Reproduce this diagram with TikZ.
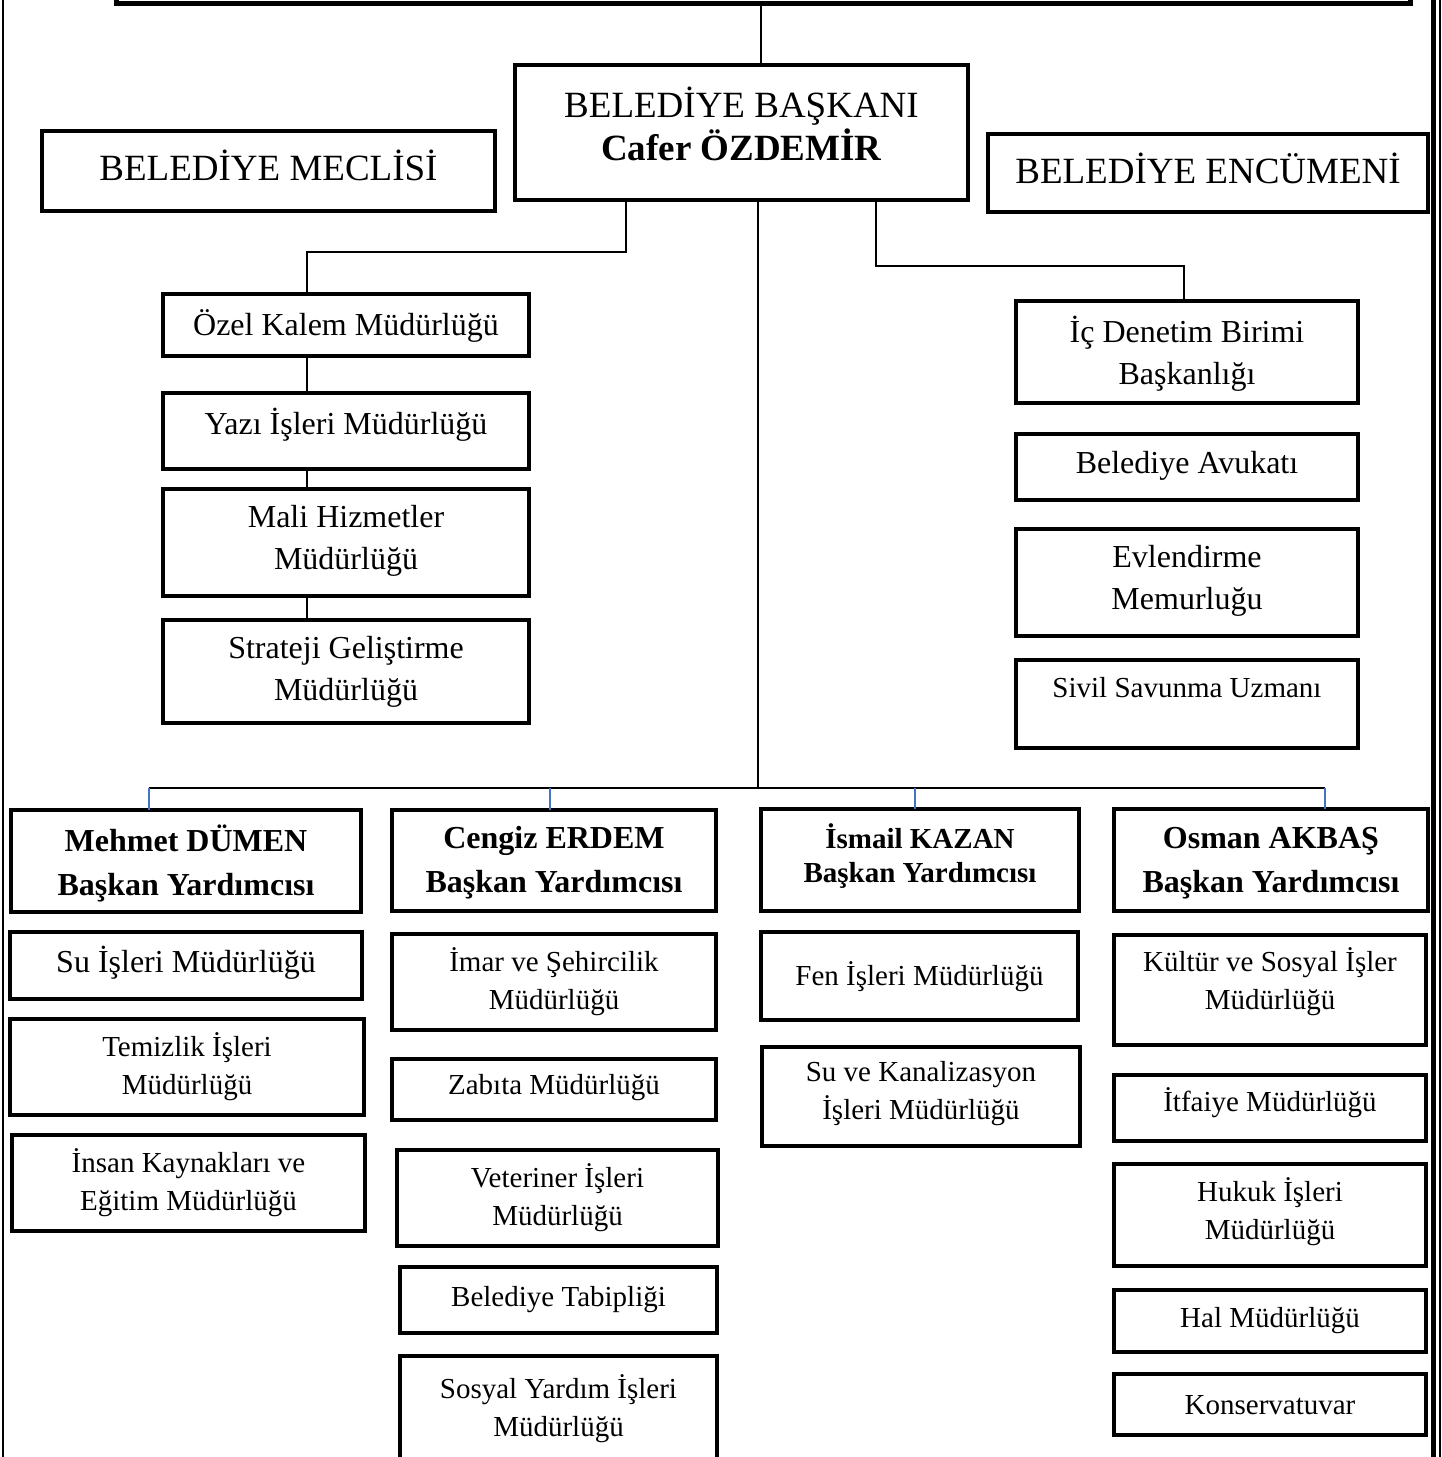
\documentclass[tikz,border=0pt]{standalone}
\usepackage{fontspec}
\setmainfont{Liberation Serif}
\definecolor{dropblue}{HTML}{4472C4}
\tikzset{
  boxst/.style={draw=black, line width=4.5pt, fill=white, inner sep=0pt, outer sep=0pt},
  txt/.style={inner sep=0pt, align=center},
  big/.style={font=\fontsize{37}{43}\selectfont},
  mid/.style={font=\fontsize{32}{42}\selectfont},
  sml/.style={font=\fontsize{29}{38}\selectfont},
  vpb/.style={font=\fontsize{32}{44}\selectfont\bfseries},
  vps/.style={font=\fontsize{29}{34}\selectfont\bfseries},
  conn/.style={draw=black, line width=1.5pt},
  drop/.style={draw=dropblue, line width=1.5pt},
  frameline/.style={draw=black, line width=2pt}
}
% name, x1, y1, x2, y2, text y, text style, text
\newcommand\obox[8]{%
  \node[boxst, minimum width={#4-#2}, minimum height={#5-#3}] (#1) at ({(#2+#4)/2},{-(#3+#5)/2}) {};
  \node[txt, #7] (#1-t) at ({(#2+#4)/2},{-#6}) {#8};
}
\begin{document}
\begin{tikzpicture}[x=1pt,y=1pt]
\useasboundingbox (0,0) rectangle (1442,-1457);
\clip (0,0) rectangle (1442,-1457);
\fill[white] (0,0) rectangle (1442,-1457);

% frame
\coordinate (fl1) at (2.5,0); \coordinate (fl2) at (2.5,-1457);
\coordinate (fr1) at (1433,0); \coordinate (fr2) at (1433,-1457);
\coordinate (fs1) at (1440,0); \coordinate (fs2) at (1440,-1457);
\draw[frameline] (fl1) -- (fl2);
\draw[draw=black, line width=5pt] (fr1) -- (fr2);
\draw[draw=black, line width=1.5pt] (fs1) -- (fs2);

% top box (cut off)
\node[boxst, line width=5pt, minimum width=1294, minimum height=63] (top) at (763,{-(-60+3)/2}) {};

% head row
\obox{bk}{515}{65}{968}{200}{123.5}{big}{BELEDİYE BAŞKANI\\\textbf{Cafer ÖZDEMİR}}
\obox{mec}{42}{131}{495}{211}{165}{big}{BELEDİYE MECLİSİ}
\obox{enc}{988}{134}{1428}{212}{168}{big}{BELEDİYE ENCÜMENİ}

% left column
\obox{ozel}{163}{294}{529}{356}{326}{mid}{Özel Kalem Müdürlüğü}
\obox{yazi}{163}{393}{529}{469}{425}{mid}{Yazı İşleri Müdürlüğü}
\obox{mali}{163}{489}{529}{596}{541}{mid}{Mali Hizmetler\\Müdürlüğü}
\obox{strat}{163}{620}{529}{723}{672}{mid}{Strateji Geliştirme\\Müdürlüğü}

% right column
\obox{ic}{1016}{301}{1358}{403}{354}{mid}{İç Denetim Birimi\\Başkanlığı}
\obox{avuk}{1016}{434}{1358}{500}{466}{mid}{Belediye Avukatı}
\obox{evl}{1016}{529}{1358}{636}{581}{mid}{Evlendirme\\Memurluğu}
\obox{sivil}{1016}{660}{1358}{748}{688}{sml}{Sivil Savunma Uzmanı}

% deputy mayors
\obox{vp1}{11}{810}{361}{912}{863}{vpb}{Mehmet DÜMEN\\Başkan Yardımcısı}
\obox{vp2}{392}{810}{716}{911}{863}{vpb}{Cengiz ERDEM\\Başkan Yardımcısı}
\obox{vp3}{761}{809}{1079}{911}{856}{vps}{İsmail KAZAN\\Başkan Yardımcısı}
\obox{vp4}{1114}{809}{1428}{911}{863}{vpb}{Osman AKBAŞ\\Başkan Yardımcısı}

% column 1
\obox{su}{10}{932}{362}{999}{963}{mid}{Su İşleri Müdürlüğü}
\obox{tem}{10}{1019}{364}{1115}{1067}{sml}{Temizlik İşleri\\Müdürlüğü}
\obox{ins}{12}{1135}{365}{1231}{1183}{sml}{İnsan Kaynakları ve\\Eğitim Müdürlüğü}

% column 2
\obox{imar}{392}{934}{716}{1030}{982}{sml}{İmar ve Şehircilik\\Müdürlüğü}
\obox{zab}{392}{1059}{716}{1120}{1088}{sml}{Zabıta Müdürlüğü}
\obox{vet}{397}{1150}{718}{1246}{1198}{sml}{Veteriner İşleri\\Müdürlüğü}
\obox{tab}{400}{1267}{717}{1333}{1300}{sml}{Belediye Tabipliği}
\obox{sos}{400}{1356}{717}{1480}{1409}{sml}{Sosyal Yardım İşleri\\Müdürlüğü}

% column 3
\obox{fen}{761}{932}{1078}{1020}{977}{sml}{Fen İşleri Müdürlüğü}
\obox{kan}{762}{1047}{1080}{1146}{1094}{sml}{Su ve Kanalizasyon\\İşleri Müdürlüğü}

% column 4
\obox{kul}{1114}{935}{1426}{1045}{982}{sml}{Kültür ve Sosyal İşler\\Müdürlüğü}
\obox{itf}{1114}{1075}{1426}{1141}{1103}{sml}{İtfaiye Müdürlüğü}
\obox{huk}{1114}{1164}{1426}{1266}{1212}{sml}{Hukuk İşleri\\Müdürlüğü}
\obox{hal}{1114}{1290}{1426}{1352}{1321}{sml}{Hal Müdürlüğü}
\obox{kon}{1114}{1374}{1426}{1435}{1405}{sml}{Konservatuvar}

% connector coordinates
\coordinate (tc) at (761,0);
\coordinate (lj) at (626,-252);
\coordinate (lk) at (307,-252);
\coordinate (rj) at (876,-266);
\coordinate (rk) at (1184,-266);
\coordinate (cc) at (758,-788);
\coordinate (b1) at (149,-788);
\coordinate (b2) at (550,-788);
\coordinate (b3) at (915,-788);
\coordinate (b4) at (1325,-788);

% connectors
\draw[conn] (top.south -| tc) -- (bk.north -| tc);
\draw[conn] (bk.south -| lj) -- (lj) -- (lk) -- (ozel.north -| lk);
\draw[conn] (ozel.south -| lk) -- (yazi.north -| lk);
\draw[conn] (yazi.south -| lk) -- (mali.north -| lk);
\draw[conn] (mali.south -| lk) -- (strat.north -| lk);
\draw[conn] (bk.south -| rj) -- (rj) -- (rk) -- (ic.north -| rk);
\draw[conn] (bk.south -| cc) -- (cc);
\draw[conn, line width=2pt] (b1) -- (b4);
\draw[drop] (b1) -- (vp1.north -| b1);
\draw[drop] (b2) -- (vp2.north -| b2);
\draw[drop] (b3) -- (vp3.north -| b3);
\draw[drop] (b4) -- (vp4.north -| b4);
\end{tikzpicture}
\end{document}
